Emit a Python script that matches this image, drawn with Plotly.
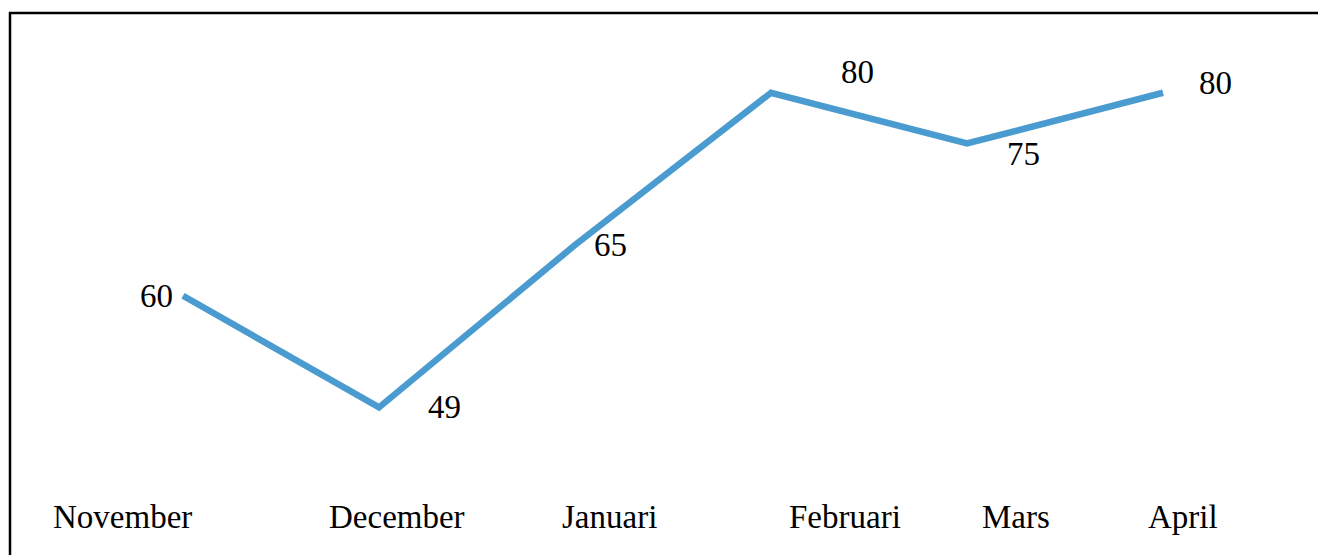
import plotly.graph_objects as go

# ---- data ----
months = ["November", "December", "Januari", "Februari", "Mars", "April"]
values = [60, 49, 65, 80, 75, 80]

# ---- layout constants ----
OFF = 8  # page body margin added by the browser
W, H = 1326 - OFF, 555 - OFF
ML, MR, MT, MB = 85 - OFF, 65, 42 - OFF, 107
FONT = "Liberation Serif"
FSIZE = 33
LINE_COLOR = "#4A9BCF"

# label offsets (px) relative to each point: (xanchor, xshift, yshift)
label_offsets = [
    ("right", -8, 0),
    ("left", 47, 0),
    ("left", 17, 0),
    ("left", 68, 21),
    ("left", 38, -10),
    ("left", 34, 10),
]
# month label centres in page pixels (they are not aligned with the points)
month_label_px = [122, 397, 609, 845, 1016, 1183]
month_label_py = 517

PW = W - ML - MR
PH = H - MT - MB


def px_x(px):
    return (px - OFF - ML) / PW


def px_y(py):
    return (H - MB - (py - OFF)) / PH


fig = go.Figure()
fig.add_trace(go.Scatter(
    x=months, y=values, mode="lines",
    line=dict(color=LINE_COLOR, width=6.5),
    hoverinfo="skip", showlegend=False,
))

annotations = []
for m, v, (xa, xs, ys) in zip(months, values, label_offsets):
    annotations.append(dict(
        x=m, y=v, xref="x", yref="y", text=str(v), showarrow=False,
        xanchor=xa, yanchor="middle", xshift=xs, yshift=ys,
        font=dict(family=FONT, size=FSIZE, color="#000000"),
    ))
for m, px in zip(months, month_label_px):
    annotations.append(dict(
        x=px_x(px), y=px_y(month_label_py), xref="paper", yref="paper",
        text=m, showarrow=False, xanchor="center", yanchor="middle",
        font=dict(family=FONT, size=FSIZE, color="#000000"),
    ))

shapes = [
    dict(type="line", xref="paper", yref="paper",
         x0=px_x(9), x1=px_x(1340), y0=px_y(13), y1=px_y(13),
         line=dict(color="#000000", width=2.5)),
    dict(type="line", xref="paper", yref="paper",
         x0=px_x(10), x1=px_x(10), y0=px_y(12), y1=px_y(570),
         line=dict(color="#000000", width=2.5)),
]

fig.update_layout(
    width=W, height=H,
    margin=dict(l=ML, r=MR, t=MT, b=MB, pad=0),
    paper_bgcolor="white", plot_bgcolor="white",
    xaxis=dict(type="category", range=[-0.5, 5.5], showgrid=False,
               zeroline=False, showline=False, showticklabels=False,
               ticks=""),
    yaxis=dict(range=[45, 85], showgrid=False, zeroline=False,
               showline=False, showticklabels=False, ticks=""),
    annotations=annotations,
    shapes=shapes,
    showlegend=False,
)

fig.write_html("out.html")
